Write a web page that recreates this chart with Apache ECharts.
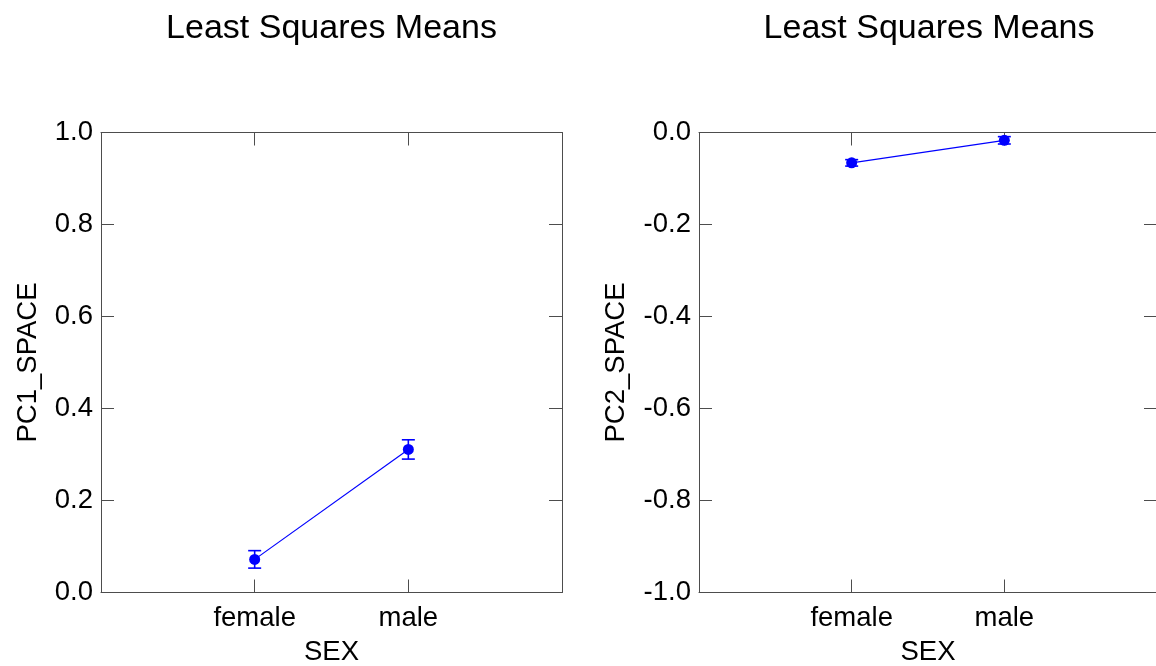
<!DOCTYPE html>
<html>
<head>
<meta charset="utf-8">
<script src="https://cdn.jsdelivr.net/npm/echarts@6/dist/echarts.min.js"></script>
<style>
  html, body { margin: 0; padding: 0; background: #fff; }
  #chart { width: 1156px; height: 666px; }
</style>
</head>
<body>
<div id="chart"></div>
<script>
// Least squares means by sex, with standard-error bars
const categories = ['female', 'male'];
const pc1Mean = [0.072, 0.311];
const pc1Err = [0.019, 0.021];
const pc2Mean = [-0.066, -0.017];
const pc2Err = [0.007, 0.008];
const pc1Ticks = { min: 0, max: 1, interval: 0.2 };
const pc2Ticks = { min: -1, max: 0, interval: 0.2 };

const FONT = 'Liberation Sans, Arial, Helvetica, sans-serif';
const FRAME = '#4d4d4d';
const BLUE = '#0000ff';
const LABEL_SIZE = 27.5;

// categories sit at 1 and 2 on a 0..3 scale
const catX = i => i + 1;

function frameLine() {
  return { show: true, onZero: false, lineStyle: { color: FRAME, width: 1 } };
}

function xAxes(gridIndex) {
  return [
    {
      type: 'value', gridIndex, position: 'bottom', min: 0, max: 3, interval: 1,
      name: 'SEX', nameLocation: 'middle', nameGap: 45.5,
      nameTextStyle: { fontFamily: FONT, fontSize: LABEL_SIZE, color: '#000' },
      axisLine: frameLine(),
      axisTick: { show: true, inside: true, length: 13, lineStyle: { color: FRAME } },
      axisLabel: {
        margin: 12, fontFamily: FONT, fontSize: LABEL_SIZE, color: '#000',
        formatter: v => categories[v - 1] || ''
      },
      splitLine: { show: false }
    },
    {
      type: 'value', gridIndex, position: 'top', min: 0, max: 3, interval: 1,
      axisLine: frameLine(),
      axisTick: { show: true, inside: true, length: 13, lineStyle: { color: FRAME } },
      axisLabel: { show: false },
      splitLine: { show: false }
    }
  ];
}

function yAxes(gridIndex, ticks, name, nameGap) {
  return [
    {
      type: 'value', gridIndex, position: 'left',
      min: ticks.min, max: ticks.max, interval: ticks.interval,
      name, nameLocation: 'middle', nameGap,
      nameTextStyle: { fontFamily: FONT, fontSize: LABEL_SIZE, color: '#000' },
      axisLine: frameLine(),
      axisTick: { show: true, inside: true, length: 13, lineStyle: { color: FRAME } },
      axisLabel: {
        margin: 8, fontFamily: FONT, fontSize: LABEL_SIZE, color: '#000',
        formatter: v => (Math.abs(v) < 1e-9 ? 0 : v).toFixed(1)
      },
      splitLine: { show: false }
    },
    {
      type: 'value', gridIndex, position: 'right',
      min: ticks.min, max: ticks.max, interval: ticks.interval,
      axisLine: frameLine(),
      axisTick: { show: true, inside: true, length: 13, lineStyle: { color: FRAME } },
      axisLabel: { show: false },
      splitLine: { show: false }
    }
  ];
}

function meanSeries(xAxisIndex, yAxisIndex, means) {
  return {
    type: 'line', xAxisIndex, yAxisIndex,
    data: means.map((m, i) => [catX(i), m]),
    symbol: 'circle', symbolSize: 11,
    lineStyle: { color: BLUE, width: 1.2 },
    itemStyle: { color: BLUE },
    z: 3, silent: true, animation: false
  };
}

function errorSeries(xAxisIndex, yAxisIndex, means, errs) {
  return {
    type: 'custom', xAxisIndex, yAxisIndex,
    data: means.map((m, i) => [catX(i), m - errs[i], m + errs[i]]),
    renderItem: (params, api) => {
      const lo = api.coord([api.value(0), api.value(1)]);
      const hi = api.coord([api.value(0), api.value(2)]);
      const half = 6.5;
      const style = { stroke: BLUE, lineWidth: 1.6 };
      return {
        type: 'group',
        children: [
          { type: 'line', shape: { x1: lo[0], y1: lo[1], x2: hi[0], y2: hi[1] }, style },
          { type: 'line', shape: { x1: lo[0] - half, y1: lo[1], x2: lo[0] + half, y2: lo[1] }, style },
          { type: 'line', shape: { x1: hi[0] - half, y1: hi[1], x2: hi[0] + half, y2: hi[1] }, style }
        ]
      };
    },
    z: 2, silent: true, animation: false
  };
}

const chart = echarts.init(document.getElementById('chart'), null, { renderer: 'canvas' });
chart.setOption({
  backgroundColor: '#fff',
  animation: false,
  title: [
    { text: 'Least Squares Means', left: 326.5, top: 7, textAlign: 'center',
      textStyle: { fontFamily: FONT, fontSize: 34, fontWeight: 'normal', color: '#000' } },
    { text: 'Least Squares Means', left: 924, top: 7, textAlign: 'center',
      textStyle: { fontFamily: FONT, fontSize: 34, fontWeight: 'normal', color: '#000' } }
  ],
  grid: [
    { left: 101, top: 132.5, width: 461, height: 460, containLabel: false, outerBoundsMode: 'none' },
    { left: 699, top: 132.5, width: 458, height: 460, containLabel: false, outerBoundsMode: 'none' }
  ],
  xAxis: [...xAxes(0), ...xAxes(1)],
  yAxis: [...yAxes(0, pc1Ticks, 'PC1_SPACE', 59), ...yAxes(1, pc2Ticks, 'PC2_SPACE', 69)],
  series: [
    errorSeries(0, 0, pc1Mean, pc1Err),
    meanSeries(0, 0, pc1Mean),
    errorSeries(2, 2, pc2Mean, pc2Err),
    meanSeries(2, 2, pc2Mean)
  ]
});
</script>
</body>
</html>
